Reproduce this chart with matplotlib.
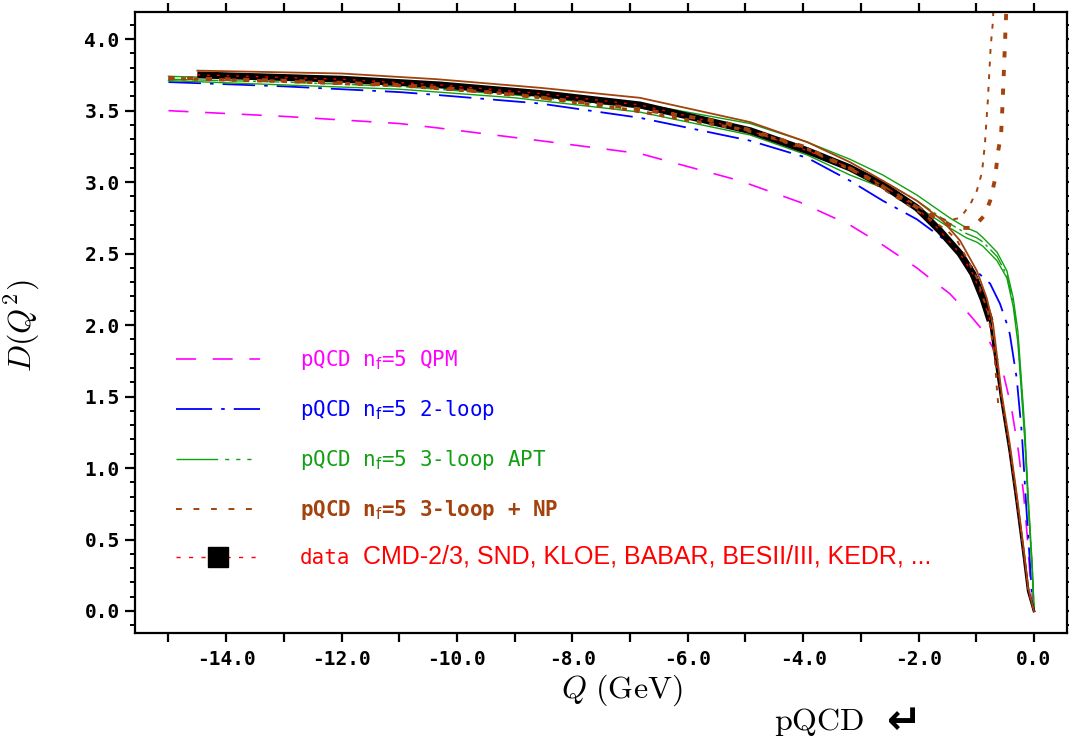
import matplotlib
matplotlib.use("Agg")
import matplotlib.pyplot as plt
from matplotlib.lines import Line2D

plt.rcParams['axes.unicode_minus'] = False

# ---- curve values (Q in GeV, D(Q^2)) ----
qpm_q = [-15, -13, -11, -10.35, -8.56, -6.83, -5.1, -4.06, -3.19, -2.62, -2.03, -1.75,
         -1.46, -1.11, -0.88, -0.71, -0.53, -0.39, -0.27, -0.18, -0.12, -0.07, -0.03, 0]
qpm_d = [3.50, 3.46, 3.41, 3.38, 3.29, 3.20, 3.01, 2.86, 2.70, 2.56, 2.40, 2.31,
         2.22, 2.07, 1.96, 1.84, 1.66, 1.42, 1.12, 0.82, 0.54, 0.26, 0.10, 0.0]

loop2_q = [-15, -13, -11, -10.35, -8.56, -6.83, -4.92, -3.93, -3.19, -2.62, -2.03, -1.46,
           -1.06, -0.76, -0.59, -0.47, -0.42, -0.30, -0.21, -0.14, -0.08, -0.03, 0]
loop2_d = [3.70, 3.67, 3.63, 3.61, 3.55, 3.45, 3.29, 3.17, 3.01, 2.87, 2.74, 2.57,
           2.40, 2.29, 2.15, 2.01, 1.94, 1.63, 1.24, 0.77, 0.40, 0.07, 0.0]

apt_q = [-15, -13, -11, -9, -6.83, -4.92, -3.93, -3.19, -2.62, -2.03, -1.46, -1.17,
         -0.99, -0.88, -0.64, -0.47, -0.36, -0.28, -0.24, -0.16, -0.10, -0.03, 0]
apt_hi = [3.74, 3.72, 3.69, 3.64, 3.55, 3.41, 3.28, 3.16, 3.05, 2.91, 2.75, 2.68,
          2.65, 2.61, 2.51, 2.38, 2.19, 1.96, 1.74, 1.28, 0.80, 0.32, 0.03]
apt_mid = [3.72, 3.70, 3.67, 3.61, 3.52, 3.37, 3.24, 3.11, 3.01, 2.87, 2.71, 2.64,
           2.61, 2.58, 2.48, 2.35, 2.16, 1.92, 1.70, 1.24, 0.77, 0.30, 0.02]
apt_lo = [3.71, 3.68, 3.65, 3.59, 3.49, 3.33, 3.19, 3.05, 2.96, 2.83, 2.68, 2.61,
          2.58, 2.55, 2.45, 2.33, 2.13, 1.88, 1.66, 1.20, 0.74, 0.28, 0.02]

np_q = [-15, -13, -11, -10, -8.5, -6.83, -5.39, -4, -3, -2.3, -1.85, -1.58, -1.33,
        -1.06, -0.85, -0.76, -0.68, -0.62, -0.57, -0.55, -0.53, -0.49, -0.46]
np_d = [3.73, 3.71, 3.68, 3.65, 3.59, 3.51, 3.42, 3.25, 3.06, 2.89, 2.78, 2.72, 2.68,
        2.68, 2.77, 2.87, 3.01, 3.22, 3.33, 3.50, 3.69, 4.10, 4.40]
np_up_q = [-15, -13, -11, -9, -7, -5, -4, -3, -2.3, -1.8, -1.5, -1.28, -1.11, -0.99,
           -0.9, -0.85, -0.8, -0.75, -0.71, -0.69]
np_up_d = [3.73, 3.71, 3.68, 3.62, 3.51, 3.37, 3.25, 3.06, 2.90, 2.78, 2.73, 2.75, 2.84,
           2.94, 3.07, 3.27, 3.57, 3.95, 4.13, 4.40]
np_dn_q = [-15, -13, -11, -9, -7, -5, -4, -3, -2.3, -1.8, -1.5, -1.33, -1.17, -0.99,
           -0.88, -0.8, -0.68, -0.64, -0.61]
np_dn_d = [3.72, 3.70, 3.67, 3.61, 3.50, 3.36, 3.24, 3.05, 2.87, 2.74, 2.66, 2.59, 2.47,
           2.33, 2.19, 2.10, 1.77, 1.54, 1.40]

fit_q = [-14.5, -12, -10.35, -8.56, -6.83, -4.92, -3.93, -3.19, -2.62, -2.03, -1.58,
         -1.28, -0.99, -0.82, -0.71, -0.56, -0.42, -0.30, -0.18, -0.10, 0]
fit_d = [3.78, 3.76, 3.72, 3.66, 3.59, 3.42, 3.28, 3.14, 3.01, 2.87, 2.73,
         2.59, 2.38, 2.19, 2.01, 1.52, 1.17, 0.82, 0.44, 0.16, 0.0]

data_q = [-14.5, -12, -10.3, -8.56, -6.83, -4.92, -3.93, -3.19, -2.62, -2.03, -1.63,
          -1.28, -1.06, -0.88, -0.76, -0.56, -0.42, -0.30, -0.18, -0.10, 0]
data_d = [3.75, 3.72, 3.68, 3.62, 3.54, 3.36, 3.22, 3.10, 2.98, 2.82, 2.66,
          2.50, 2.36, 2.18, 2.03, 1.47, 1.12, 0.77, 0.40, 0.14, 0.0]

x_major = [-14, -12, -10, -8, -6, -4, -2, 0]
x_minor = list(range(-15, 1))
y_major = [0.0, 0.5, 1.0, 1.5, 2.0, 2.5, 3.0, 3.5, 4.0]
y_minor = [round(-0.1 + 0.1 * i, 1) for i in range(43)]

labels = ['pQCD n$_\\mathrm{f}$=5 QPM', 'pQCD n$_\\mathrm{f}$=5 2-loop',
          'pQCD n$_\\mathrm{f}$=5 3-loop APT', 'pQCD n$_\\mathrm{f}$=5 3-loop + NP', 'data']
experiments = 'CMD-2/3, SND, KLOE, BABAR, BESII/III, KEDR, ...'

MAG = '#ff00ff'
BLUE = '#0000ff'
GREEN = '#11a011'
BROWN = '#a3420c'
RED = '#ff0000'

fig = plt.figure(figsize=(10.69, 7.42), dpi=100)
ax = fig.add_axes([0.1263, 0.1469, 0.8717, 0.8369])

ax.plot(qpm_q, qpm_d, color=MAG, lw=1.2, ls=(0, (12, 10)))
ax.plot(loop2_q, loop2_d, color=BLUE, lw=1.3, ls=(0, (18, 5, 2, 5)))
ax.plot(apt_q, apt_hi, color=GREEN, lw=1.0)
ax.plot(apt_q, apt_lo, color=GREEN, lw=1.0)
ax.plot(apt_q, apt_mid, color=GREEN, lw=1.0, ls=(0, (14, 3, 2, 3)))
ax.plot(data_q[:15], data_d[:15], color='black', lw=5, solid_capstyle='butt')
ax.plot(data_q[14:], data_d[14:], color='black', lw=2)
ax.plot(data_q, data_d, color=RED, lw=1, ls=(0, (2, 5)))
ax.plot(fit_q, fit_d, color=BROWN, lw=1.3)
ax.plot(np_q, np_d, color=BROWN, lw=2.8, ls=(0, (1.6, 3.2)))
ax.plot(np_up_q, np_up_d, color=BROWN, lw=1.4, ls=(0, (2.5, 4)))
ax.plot(np_dn_q, np_dn_d, color=BROWN, lw=1.4, ls=(0, (2.5, 4)))

ax.set_xlim(-15.58, 0.57)
ax.set_ylim(-0.154, 4.19)
ax.set_xticks(x_major)
ax.set_xticks(x_minor, minor=True)
ax.set_xticklabels([f'{v:.1f}' for v in x_major], fontweight='bold')
ax.set_yticks(y_major)
ax.set_yticks(y_minor, minor=True)
ax.set_yticklabels([f'{v:.1f}' for v in y_major], fontweight='bold')

for s in ax.spines.values():
    s.set_linewidth(1.6)
ax.tick_params(axis='x', which='both', direction='out', length=6.5, width=1.6,
               top=True, bottom=True, pad=6, labelsize=14,
               labelfontfamily='DejaVu Sans Mono')
ax.tick_params(axis='y', which='major', direction='out', length=7, width=1.6,
               left=True, right=True, pad=4, labelsize=14,
               labelfontfamily='DejaVu Sans Mono')
ax.tick_params(axis='y', which='minor', direction='out', length=3.5, width=1.4,
               left=True, right=True)

handles = [
    Line2D([], [], color=MAG, lw=1.2, ls=(0, (12, 10))),
    Line2D([], [], color=BLUE, lw=1.3, ls=(0, (20, 5, 2, 5))),
    Line2D([], [], color=GREEN, lw=1.0, ls=(0, (30, 5, 3, 5, 3, 5, 3, 20))),
    Line2D([], [], color=BROWN, lw=1.4, ls=(0, (3, 6))),
    Line2D([], [], color=RED, lw=1.0, ls=(0, (3, 6)), marker='s', markersize=15,
           markerfacecolor='black', markeredgecolor='black'),
]
leg = ax.legend(handles, labels, loc='upper left', bbox_to_anchor=(0.044, 0.459),
                frameon=False, borderpad=0, borderaxespad=0, handlelength=4.03,
                handletextpad=1.92, labelspacing=1.25, numpoints=1,
                prop={'family': 'DejaVu Sans Mono', 'size': 15})
for txt, col in zip(leg.get_texts(), [MAG, BLUE, GREEN, BROWN, RED]):
    txt.set_color(col)
leg.get_texts()[3].set_fontweight('bold')

ax.text(0.2446, 0.1224, experiments, transform=ax.transAxes, color=RED,
        fontsize=18, va='center', ha='left', family='Liberation Sans')

fig.text(622 / 1069, 1 - 690 / 742, r'$Q\ \mathrm{(GeV)}$', fontsize=23,
         ha='center', va='center', math_fontfamily='cm')
fig.text(22 / 1069, 1 - 326 / 742, r'$D(Q^2)$', fontsize=23, rotation=90,
         ha='center', va='center', math_fontfamily='cm')
fig.text(819 / 1069, 1 - 722 / 742, r'$\mathrm{pQCD}$', fontsize=23,
         ha='center', va='center', math_fontfamily='cm')
fig.text(904 / 1069, 1 - 722 / 742, '\u21b5', fontsize=30, fontweight='bold',
         ha='center', va='center', family='DejaVu Sans')

fig.savefig('out.png', dpi=100)
